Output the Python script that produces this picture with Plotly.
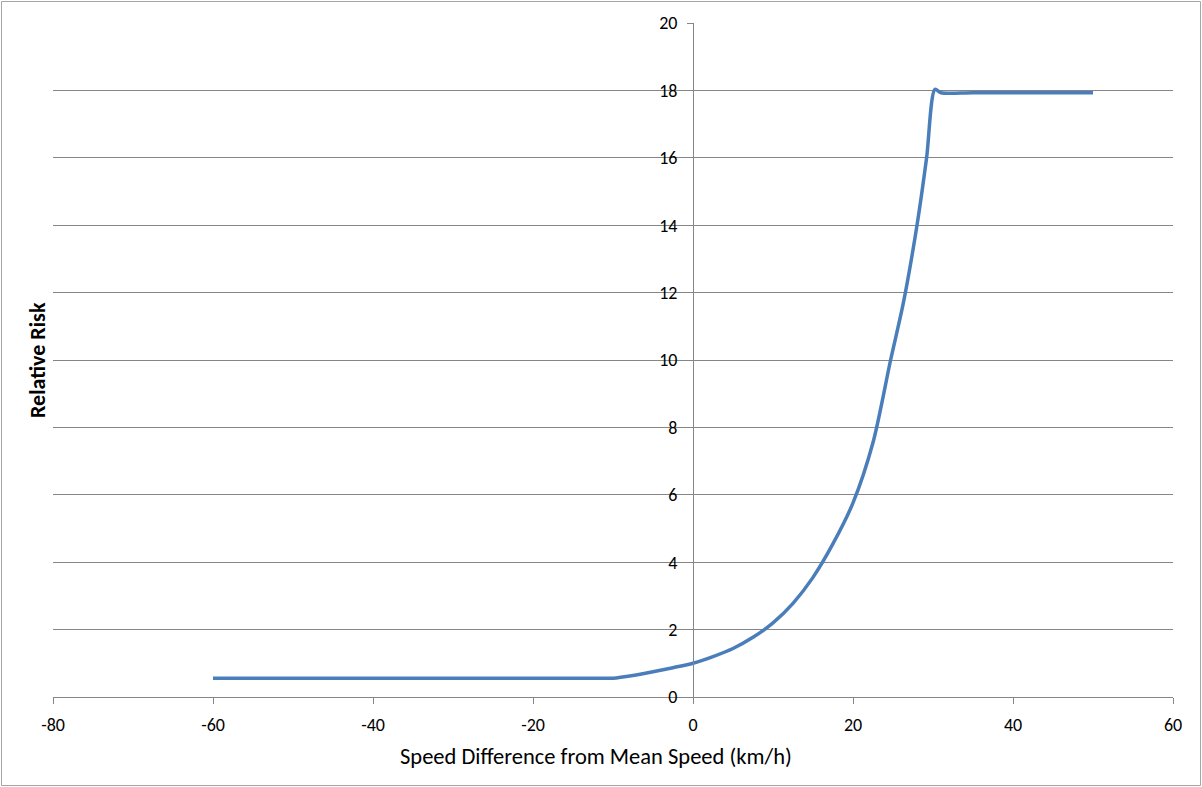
import plotly.graph_objects as go

# Data
speed_diff = [-60, -40, -20, -12.5, -10, -7.5, -5, -2.5, 0, 2.5, 5, 7.5, 10, 12.5, 15,
              17.5, 20, 22.5, 24.7, 26.3, 28, 29.2, 30.25, 31, 35, 45, 50]
relative_risk = [0.56, 0.56, 0.56, 0.56, 0.56, 0.64, 0.75, 0.87, 1.0, 1.2, 1.44, 1.77,
                 2.2, 2.78, 3.55, 4.55, 5.76, 7.55, 10.0, 11.7, 14.0, 16.0, 18.03,
                 17.93, 17.93, 17.93, 17.93]

x_ticks = [-80, -60, -40, -20, 0, 20, 40, 60]
y_ticks = [0, 2, 4, 6, 8, 10, 12, 14, 16, 18, 20]

FONT = "Calibri, Carlito, Lato, sans-serif"
GRID = "#868686"

fig = go.Figure()
fig.add_trace(go.Scatter(
    x=speed_diff, y=relative_risk, mode="lines",
    line=dict(color="#4a7ebb", width=3.5, shape="spline", smoothing=0.8),
    hoverinfo="x+y", showlegend=False,
))

L, R, T, B = 53, 29, 23, 90
W, H = 1202, 787
pw, ph = W - L - R, H - T - B

fig.update_layout(
    width=W, height=H,
    margin=dict(l=L, r=R, t=T, b=B),
    paper_bgcolor="white", plot_bgcolor="white",
    font=dict(family=FONT, size=18, color="#000000"),
    xaxis=dict(
        range=[-80, 60], tickvals=x_ticks, ticktext=[str(v) for v in x_ticks],
        showgrid=False, zeroline=False, showline=True, linecolor=GRID, linewidth=1,
        ticks="outside", ticklen=6, tickcolor=GRID, tickfont=dict(size=18),
        ticklabelstandoff=5,
    ),
    yaxis=dict(
        range=[0, 20], tickvals=y_ticks, ticktext=[str(v) for v in y_ticks],
        anchor="free", position=(0 - (-80)) / 140, side="left",
        showgrid=True, gridcolor=GRID, gridwidth=1,
        zeroline=False, showline=True, linecolor=GRID, linewidth=1,
        ticks="outside", ticklen=6, tickcolor=GRID, tickfont=dict(size=18),
        ticklabelstandoff=6,
    ),
)

# x title
fig.add_annotation(
    text="Speed Difference from Mean Speed (km/h)", xref="paper", yref="paper",
    x=(596 - L) / pw, y=(H - B - 756) / ph, showarrow=False,
    font=dict(size=22.5, family=FONT), xanchor="center", yanchor="middle",
)
# y title
fig.add_annotation(
    text="<b>Relative Risk</b>", xref="paper", yref="paper",
    x=(37 - L) / pw, y=(H - B - 360) / ph, showarrow=False, textangle=-90,
    font=dict(size=22, family=FONT), xanchor="center", yanchor="middle",
)
# outer chart border
fig.add_shape(
    type="rect", xref="paper", yref="paper",
    x0=(1.5 - L) / pw, x1=(1200.5 - L) / pw,
    y0=(H - B - 785.5) / ph, y1=(H - B - 1.5) / ph,
    line=dict(color="#a6a6a6", width=1), fillcolor="rgba(0,0,0,0)",
)

fig.write_html("out.html", config={"displayModeBar": False},
               post_script="document.body.style.margin='0px';")
